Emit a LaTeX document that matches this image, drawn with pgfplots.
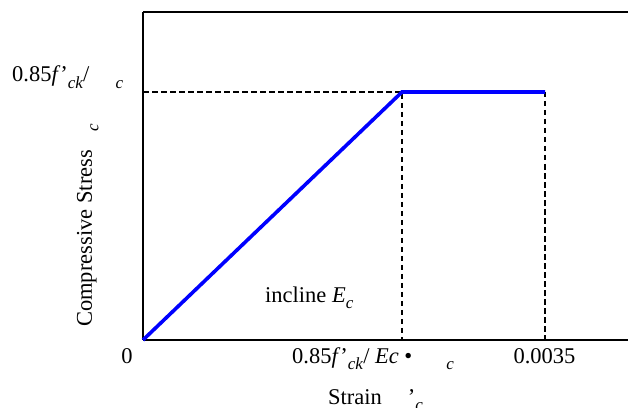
\documentclass[border=0pt]{standalone}
\usepackage{fontspec}
\setmainfont{Liberation Serif}
\usepackage{pgfplots}
\pgfplotsset{compat=1.18}
\newcommand{\sub}[1]{\raisebox{-0.28em}{\fontsize{17bp}{17bp}\selectfont\textit{#1}}}
\begin{document}
\fontsize{22.5bp}{27bp}\selectfont
\begin{tikzpicture}
\begin{axis}[
  at={(0,0)}, anchor=south west,
  scale only axis, width=485bp, height=328bp,
  xmin=0, xmax=4.2226, ymin=0, ymax=1.1242,
  axis x line*=bottom, axis y line*=left,
  xtick=\empty, ytick=\empty,
  axis line style={line width=2bp},
  clip=false]
\addplot[black, line width=1.4bp, dash pattern=on 5.5bp off 3.5bp] coordinates {(0,0.85) (2.255,0.85) (2.255,0)};
\addplot[black, line width=1.4bp, dash pattern=on 5.5bp off 3.5bp] coordinates {(3.5,0.85) (3.5,0)};
\addplot[blue, line width=3.6bp] coordinates {(0,0) (2.255,0.85) (3.5,0.85)};
\draw[line width=2bp] (rel axis cs:0,1) -- (rel axis cs:1,1);
\end{axis}
\node[anchor=base, inner sep=0] at (-16bp,-23bp) {0};
\node[anchor=base, inner sep=0] at (401.5bp,-23bp) {0.0035};
\node[anchor=base west, inner sep=0] at (149bp,-23bp) {0.85\textit{f}'\sub{ck}/ \textit{Ec} •\hspace{34bp}\sub{c}};
\node[anchor=base west, inner sep=0] at (185bp,-64bp) {Strain\hspace{26bp}'\sub{c}};
\node[anchor=base west, inner sep=0] at (-131bp,258bp) {0.85\textit{f}'\sub{ck}/\hspace{26bp}\sub{c}};
\node[anchor=base west, inner sep=0] at (122bp,38bp) {incline \textit{E}\sub{c}};
\node[anchor=base west, inner sep=0, rotate=90] at (-51bp,13bp) {Compressive Stress\hspace{18bp}\sub{c}};
\pgfresetboundingbox
\useasboundingbox (-143bp,-68bp) rectangle (485bp,340bp);
\end{tikzpicture}
\end{document}
